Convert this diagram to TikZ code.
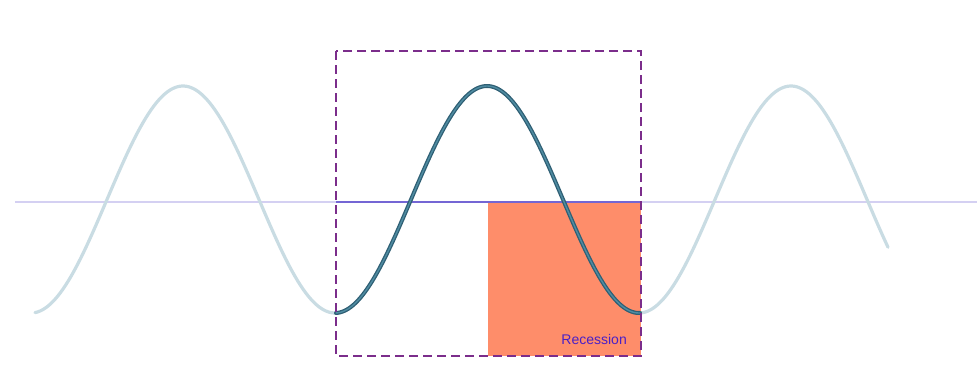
\documentclass[tikz,border=0pt]{standalone}
\usepackage{fontspec}
\setmainfont{Liberation Sans}
\definecolor{faintwave}{HTML}{C9DCE3}
\definecolor{darkwave}{HTML}{2F5F74}
\definecolor{midwave}{HTML}{4F8CA2}
\definecolor{lightaxis}{HTML}{D4D0F2}
\definecolor{darkaxis}{HTML}{7466D4}
\definecolor{boxpurple}{HTML}{7B2D8B}
\definecolor{recess}{HTML}{FE8D6A}
\definecolor{labelblue}{HTML}{4A20C6}
\tikzset{
  faint/.style={draw=faintwave, line width=3.2pt, line cap=round},
  darkouter/.style={draw=darkwave, line width=4pt, line cap=round},
  darkinner/.style={draw=midwave, line width=1.4pt, line cap=round},
  framebox/.style={draw=boxpurple, line width=2pt, dash pattern=on 9pt off 5pt},
}
\begin{document}
\begin{tikzpicture}[x=1pt,y=-1pt]
\useasboundingbox (0,0) rectangle (977,386);
% recession area
\fill[recess] (488,203) rectangle (641,356);
% axis line
\draw[lightaxis, line width=1.2pt] (15,202) -- (977,202);
\draw[darkaxis, line width=1.5pt] (336,202) -- (641,202);
% faint waves
\draw[faint, domain=35:336, samples=120] plot (\x, {199.5-113.5*cos(((\x-183)/304)*360)});
\draw[faint, domain=640:888, samples=120] plot (\x, {199.5-113.5*cos(((\x-183)/304)*360)});
% dark middle wave
\draw[darkouter, domain=336:640, samples=150] plot (\x, {199.5-113.5*cos(((\x-183)/304)*360)});
\draw[darkinner, domain=336:640, samples=150] plot (\x, {199.5-113.5*cos(((\x-183)/304)*360)});
% dashed frame
\draw[framebox] (336,51) rectangle (641,356);
\node[text=labelblue, font=\fontsize{14}{16}\selectfont, anchor=base east, inner sep=0pt] (lbl) at (627,344) {Recession};
\end{tikzpicture}
\end{document}
